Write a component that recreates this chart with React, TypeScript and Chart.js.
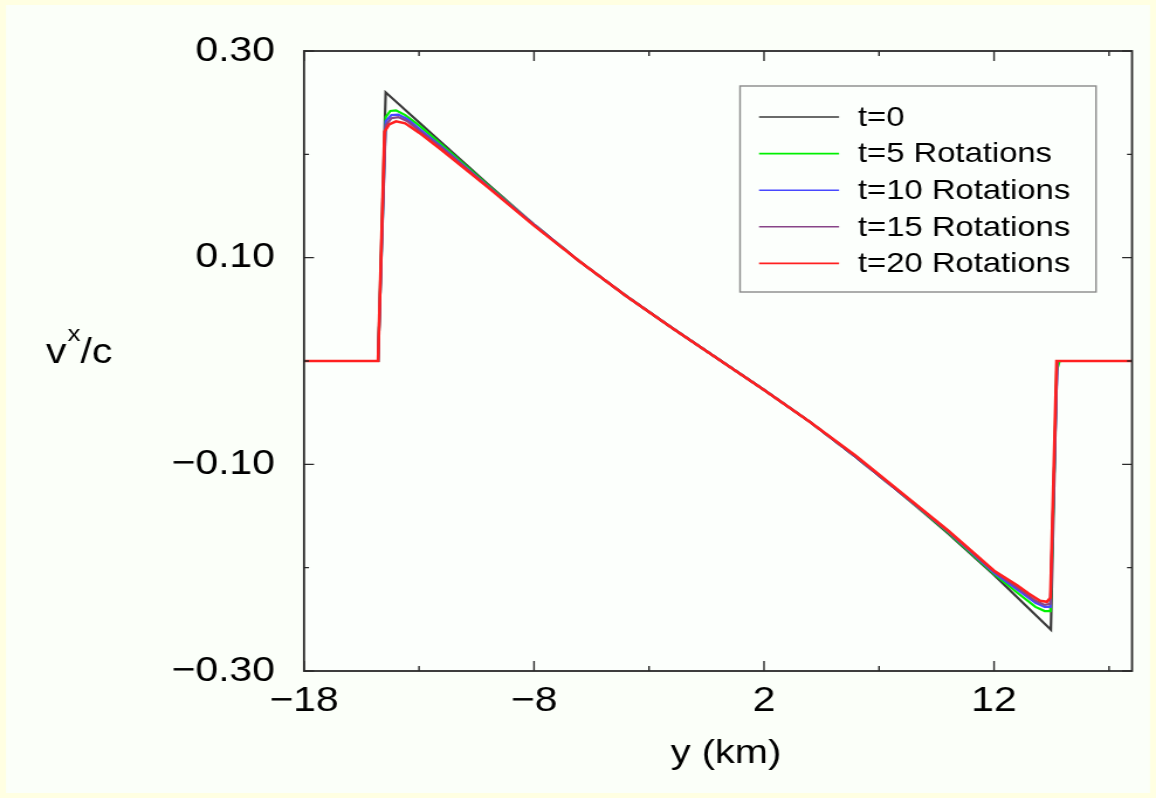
import React, { useEffect, useRef } from "react";
import { Chart, registerables } from "chart.js";

Chart.register(...registerables);

// Canvas is drawn narrower and widened by CSS, giving the wide lettering of the figure.
const STRETCH = 1.17;
const PAGE_W = 1156;
const PAGE_H = 798;
const CANVAS_W = Math.round(PAGE_W / STRETCH);

// Profile of v^x/c across y (km) at successive times.
const yT0 = [-18, -14.78, -14.45, -12, -10, -8, -6, -4, -2, 0, 2, 4, 6, 8, 10, 12, 14.47, 14.74, 18];
const vT0 = [0, 0, 0.26, 0.211, 0.171, 0.132, 0.096, 0.063, 0.032, 0.002, -0.028, -0.059, -0.093, -0.129, -0.167, -0.207, -0.26, 0, 0];

const yT5 = [-18, -14.78, -14.45, -14.25, -14.0, -13.6, -13, -12, -10, -8, -6, -4, -2, 0, 2, 4, 6, 8, 10, 12, 13, 13.8, 14.2, 14.45, 14.6, 14.72, 14.85, 18];
const vT5 = [0, 0, 0.236, 0.242, 0.2425, 0.238, 0.228, 0.209, 0.17, 0.132, 0.096, 0.063, 0.032, 0.002, -0.028, -0.059, -0.093, -0.129, -0.166, -0.206, -0.224, -0.238, -0.242, -0.242, -0.12, -0.01, 0, 0];

const yT10 = [-18, -14.78, -14.45, -14.2, -13.9, -13.5, -13, -12, -10, -8, -6, -4, -2, 0, 2, 4, 6, 8, 10, 12, 13, 13.8, 14.2, 14.45, 14.75, 18];
const vT10 = [0, 0, 0.232, 0.238, 0.2385, 0.234, 0.225, 0.207, 0.169, 0.132, 0.096, 0.063, 0.032, 0.002, -0.028, -0.059, -0.093, -0.129, -0.165, -0.205, -0.221, -0.234, -0.238, -0.238, 0, 0];

const yT15 = [-18, -14.78, -14.45, -14.2, -13.9, -13.5, -13, -12, -10, -8, -6, -4, -2, 0, 2, 4, 6, 8, 10, 12, 13, 13.8, 14.2, 14.45, 14.75, 18];
const vT15 = [0, 0, 0.228, 0.235, 0.236, 0.232, 0.223, 0.206, 0.169, 0.132, 0.096, 0.063, 0.032, 0.002, -0.028, -0.059, -0.093, -0.129, -0.165, -0.204, -0.219, -0.232, -0.236, -0.235, 0, 0];

const yT20 = [-18, -14.78, -14.5, -14.3, -14.0, -13.6, -13, -12, -10, -8, -6, -4, -2, 0, 2, 4, 6, 8, 10, 12, 13, 13.5, 14.0, 14.3, 14.45, 14.72, 18];
const vT20 = [0, 0, 0.222, 0.229, 0.232, 0.23, 0.221, 0.204, 0.168, 0.131, 0.096, 0.063, 0.032, 0.002, -0.028, -0.059, -0.092, -0.128, -0.164, -0.203, -0.217, -0.225, -0.232, -0.233, -0.229, 0, 0];

const seriesLabels = ["t=0", "t=5 Rotations", "t=10 Rotations", "t=15 Rotations", "t=20 Rotations"];
const seriesColors = ["#3a3a3a", "#00f000", "#4848ff", "#884488", "#ff2020"];

// Axis ticks
const xMajorTicks = [-18, -8, 2, 12];
const xMinorTicks = [-13, -3, 7, 17];
const yMajorTicks = [0.3, 0.1, -0.1, -0.3];
const yMinorTicks = [0.2, 0, -0.2];

const xTitle = "y (km)";
const PAGE_BG = "#ffffe2";
const PANEL_BG = "#fbfff9";
const PLOT_BG = "#fcfffc";
const FONT = '"Liberation Sans", Arial, Helvetica, sans-serif';

const toPoints = (xs: number[], vs: number[]) => xs.map((x, i) => ({ x, y: vs[i] }));

const formatTick = (v: number) => {
  const s = Math.abs(v).toFixed(2);
  return v < 0 ? "\u2212" + s : s;
};

const decorPlugin = {
  id: "decor",
  beforeDraw(chart: any) {
    const { ctx, chartArea } = chart;
    ctx.save();
    ctx.fillStyle = PAGE_BG;
    ctx.fillRect(0, 0, chart.width, chart.height);
    ctx.fillStyle = PANEL_BG;
    ctx.fillRect(6 / STRETCH, 5, chart.width - 12 / STRETCH, chart.height - 10);
    ctx.fillStyle = PLOT_BG;
    ctx.fillRect(chartArea.left, chartArea.top, chartArea.right - chartArea.left, chartArea.bottom - chartArea.top);
    ctx.restore();
  },
  afterDatasetsDraw(chart: any) {
    const { ctx, chartArea, scales } = chart;
    const { left, right, top, bottom } = chartArea;
    const xs = scales.x;
    const ys = scales.y;
    ctx.save();
    ctx.strokeStyle = "#2a2a2a";
    ctx.beginPath();
    const tickX = (v: number, len: number) => {
      const p = xs.getPixelForValue(v);
      ctx.moveTo(p, bottom);
      ctx.lineTo(p, bottom - len);
      ctx.moveTo(p, top);
      ctx.lineTo(p, top + len);
    };
    const tickY = (v: number, len: number) => {
      const p = ys.getPixelForValue(v);
      ctx.moveTo(left, p);
      ctx.lineTo(left + len / STRETCH, p);
      ctx.moveTo(right, p);
      ctx.lineTo(right - len / STRETCH, p);
    };
    ctx.lineWidth = 1.4;
    xMajorTicks.forEach((v) => tickX(v, 10));
    xMinorTicks.forEach((v) => tickX(v, 5));
    yMajorTicks.forEach((v) => tickY(v, 10));
    yMinorTicks.forEach((v) => tickY(v, 5));
    ctx.stroke();
    ctx.lineWidth = 1.8;
    ctx.strokeRect(left, top, right - left, bottom - top);

    // Legend box
    const bx0 = 740 / STRETCH;
    const bx1 = 1096 / STRETCH;
    const by0 = 86;
    const by1 = 292;
    ctx.fillStyle = PLOT_BG;
    ctx.fillRect(bx0, by0, bx1 - bx0, by1 - by0);
    ctx.strokeStyle = "#8a8a8a";
    ctx.lineWidth = 1.4;
    ctx.strokeRect(bx0, by0, bx1 - bx0, by1 - by0);
    ctx.font = `28px ${FONT}`;
    ctx.textBaseline = "middle";
    ctx.textAlign = "left";
    chart.data.datasets.forEach((ds: any, i: number) => {
      const yy = 117 + i * 36.6;
      ctx.strokeStyle = ds.borderColor;
      ctx.lineWidth = 1.6;
      ctx.beginPath();
      ctx.moveTo(759 / STRETCH, yy);
      ctx.lineTo(839 / STRETCH, yy);
      ctx.stroke();
      ctx.fillStyle = "#000";
      ctx.fillText(ds.label, 858 / STRETCH, yy + 1);
    });

    // Axis titles
    ctx.fillStyle = "#000";
    ctx.textBaseline = "alphabetic";
    ctx.font = `34px ${FONT}`;
    ctx.textAlign = "center";
    ctx.fillText(xTitle, 726 / STRETCH, 763);

    ctx.textAlign = "left";
    let tx = 46 / STRETCH;
    const base = 363;
    ctx.font = `35px ${FONT}`;
    ctx.fillText("v", tx, base);
    tx += ctx.measureText("v").width + 1;
    ctx.font = `22px ${FONT}`;
    ctx.fillText("x", tx, base - 22);
    tx += ctx.measureText("x").width;
    ctx.font = `35px ${FONT}`;
    ctx.fillText("/c", tx, base);
    ctx.restore();
  },
};

export default function App() {
  const canvasRef = useRef<HTMLCanvasElement | null>(null);

  useEffect(() => {
    const canvas = canvasRef.current;
    if (!canvas) return;
    const plotLeft = 304 / STRETCH;
    const plotRight = 1132 / STRETCH;
    const plotTop = 51;
    const plotBottom = 671;

    const series = [
      toPoints(yT0, vT0),
      toPoints(yT5, vT5),
      toPoints(yT10, vT10),
      toPoints(yT15, vT15),
      toPoints(yT20, vT20),
    ];

    const chart = new Chart(canvas, {
      type: "line",
      data: {
        datasets: series.map((pts, i) => ({
          label: seriesLabels[i],
          data: pts,
          borderColor: seriesColors[i],
          backgroundColor: seriesColors[i],
          borderWidth: i === 4 ? 2.6 : 2.2,
          pointRadius: 0,
          tension: 0,
          fill: false,
          order: series.length - 1 - i,
        })),
      },
      options: {
        responsive: false,
        devicePixelRatio: 1,
        animation: false,
        events: [],
        layout: {
          padding: {
            left: 0,
            top: plotTop,
            right: CANVAS_W - plotRight,
            bottom: 0,
          },
        },
        plugins: {
          legend: { display: false },
          tooltip: { enabled: false },
          title: { display: false },
        },
        scales: {
          x: {
            type: "linear",
            min: -18,
            max: 18,
            grid: { display: false, drawTicks: false },
            border: { display: false },
            afterBuildTicks: (scale: any) => {
              scale.ticks = xMajorTicks.map((value) => ({ value }));
            },
            afterFit: (scale: any) => {
              scale.height = PAGE_H - plotBottom;
            },
            ticks: {
              color: "#000",
              padding: 9,
              maxRotation: 0,
              autoSkip: false,
              font: { family: FONT, size: 35 },
              callback: (v: any) => formatTick(Number(v)).replace(/\.00$/, ""),
            },
          },
          y: {
            type: "linear",
            min: -0.3,
            max: 0.3,
            grid: { display: false, drawTicks: false },
            border: { display: false },
            afterBuildTicks: (scale: any) => {
              scale.ticks = yMajorTicks.map((value) => ({ value }));
            },
            afterFit: (scale: any) => {
              scale.width = plotLeft;
            },
            ticks: {
              color: "#000",
              padding: 29 / STRETCH,
              autoSkip: false,
              font: { family: FONT, size: 35 },
              callback: (v: any) => formatTick(Number(v)),
            },
          },
        },
      },
      plugins: [decorPlugin],
    });
    return () => chart.destroy();
  }, []);

  return (
    <div style={{ position: "absolute", left: 0, top: 0, width: PAGE_W, height: PAGE_H, overflow: "hidden" }}>
      <canvas
        ref={canvasRef}
        width={CANVAS_W}
        height={PAGE_H}
        style={{ width: PAGE_W + "px", height: PAGE_H + "px", display: "block" }}
      />
    </div>
  );
}
